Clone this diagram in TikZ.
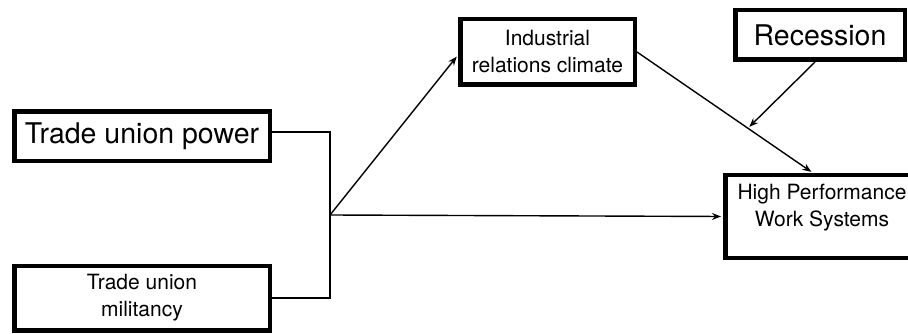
\documentclass[tikz,border=0pt]{standalone}
\usepackage{fontspec}
\setmainfont{TeX Gyre Heros}
\usetikzlibrary{arrows.meta,calc}
\begin{document}
\begin{tikzpicture}[x=1pt,y=1pt,
  box/.style={draw=black, line width=4.5pt, inner sep=0pt, align=center, fill=white},
  small/.style={font=\fontsize{21}{27}\selectfont},
  big/.style={font=\fontsize{28.5}{34}\selectfont},
  conn/.style={line width=1.4pt},
  arr/.style={conn, -{Stealth[length=9pt,width=7pt]}, shorten >=2pt}
]
\useasboundingbox (0,0) rectangle (908,-334);
\clip (0,0) rectangle (908,-334);
\node[box, big, minimum width=255.5pt, minimum height=49.5pt] (TUP) at (142,-136.5) {Trade union power};
\node[box, small, minimum width=255.5pt, minimum height=64.5pt] (Mil) at (142,-298) {Trade union\\militancy};
\node[box, small, minimum width=174.5pt, minimum height=65.5pt] (IR) at (547.5,-52) {Industrial\\relations climate};
\node[box, big, minimum width=169.5pt, minimum height=49.5pt] (Rec) at (820,-35) {Recession};
\node[box, minimum width=193.5pt, minimum height=82.5pt] (HP) at (822,-216.5) {};
\node[small, align=center, inner sep=0pt] (HPt) at (822,-207.5) {High Performance\\Work Systems};
\coordinate (J) at (330,-215);
\coordinate (T1) at ($(TUP.east)+(0,4.5)$);
\draw[conn] (T1) -- (J|-T1) -- (J|-Mil.east) -- (Mil.east);
\draw[arr] (J) -- ($(IR.west)+(0,-3)$);
\draw[arr] (J) -- (HP.west);
\coordinate (P) at ($(HP.north)+(-9,0)$);
\draw[arr] (IR.east) -- (P);
\coordinate (M) at ($(IR.east)!0.63!(P)$);
\draw[arr] ($(Rec.south)+(-5,0)$) -- (M);
\end{tikzpicture}
\end{document}
